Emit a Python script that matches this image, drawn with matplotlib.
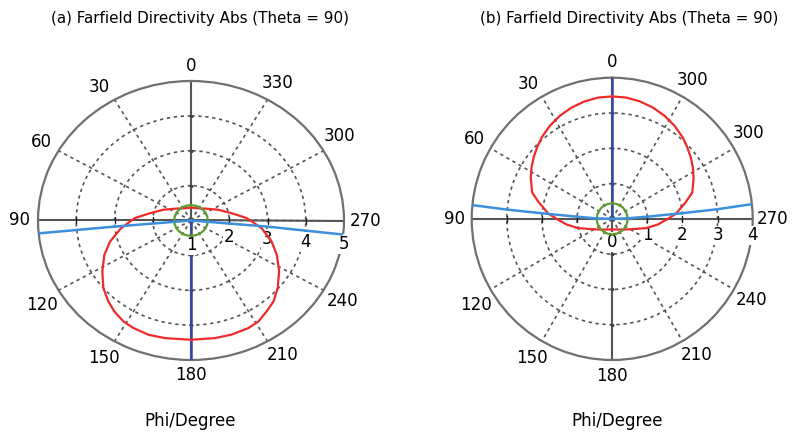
import numpy as np
import matplotlib.pyplot as plt

plt.rcParams['font.family'] = ['DejaVu Sans']

# Angulos de la rejilla y etiquetas de cada panel
angulos_theta = [0, 30, 60, 90, 120, 150, 180, 210, 240, 270, 300, 330]
etiquetas_theta_a = ['0', '30', '60', '90', '120', '150', '180', '210', '240', '270', '300', '330']
etiquetas_theta_b = ['0', '30', '60', '90', '120', '150', '180', '210', '240', '270', '300', '300']

# Escala radial: (a) va de 1 a 5, (b) de 0 a 4
rticks_a = [1, 2, 3, 4, 5]
rticks_b = [0, 1, 2, 3, 4]

# (a) Directividad, phi en grados y radio
phi_rojo_a = [0, 26.2, 46.7, 67.0, 78.9, 87.3, 96.8, 105.9, 113.5, 122.2, 130.2, 137.0,
              142.5, 148.6, 153.9, 161.2, 168.6, 180, 190.5, 198.0, 205.9, 211.3, 217.2,
              222.9, 229.5, 237.6, 246.3, 254.1, 263.2, 272.7, 281.2, 293.2, 313.3, 333.8, 360]
r_rojo_a = [1.37, 1.39, 1.50, 1.79, 2.09, 2.47, 2.84, 3.20, 3.47, 3.74, 4.00, 4.17,
            4.29, 4.39, 4.43, 4.46, 4.44, 4.42, 4.43, 4.44, 4.43, 4.39, 4.27,
            4.17, 3.98, 3.73, 3.45, 3.19, 2.86, 2.46, 2.08, 1.78, 1.50, 1.39, 1.37]
phi_celeste_a = [95.3, 95.0, 95.0, 265.0, 265.0, 264.2]
r_celeste_a = [5.05, 3.0, 1.0, 1.0, 3.0, 5.05]
phi_azul_a = [180, 180]
r_azul_a = [1.0, 5.0]
phi_verde_a = [0, 15, 30, 45, 60, 75, 90, 105, 120, 135, 150, 165, 180,
               195, 210, 225, 240, 255, 270, 285, 300, 315, 330, 345, 360]
r_verde_a = [1.44, 1.44, 1.44, 1.44, 1.44, 1.44, 1.44, 1.44, 1.44, 1.44, 1.44, 1.44, 1.44,
             1.44, 1.44, 1.44, 1.44, 1.44, 1.44, 1.44, 1.44, 1.44, 1.44, 1.44, 1.44]

# (b)
phi_rojo_b = [0, 6.7, 13.4, 20.1, 27.0, 33.9, 40.9, 46.3, 51.9, 57.6, 63.5, 71.8, 77.2,
              85.2, 90.3, 97.0, 105.0, 114.7, 131.2, 180, 228.8, 245.3, 255.0, 263.0,
              269.7, 274.8, 282.8, 288.2, 296.5, 302.4, 308.1, 313.7, 319.1, 326.1, 333.0,
              339.9, 346.6, 353.3, 360]
r_rojo_b = [3.47, 3.46, 3.42, 3.36, 3.28, 3.18, 3.06, 2.95, 2.84, 2.72, 2.59, 2.40, 2.15,
            1.83, 1.57, 1.31, 1.01, 0.69, 0.46, 0.30, 0.46, 0.69, 1.01, 1.31,
            1.57, 1.83, 2.15, 2.40, 2.59, 2.72, 2.84, 2.95, 3.06, 3.18, 3.28,
            3.36, 3.42, 3.46, 3.47]
phi_celeste_b = [84.4, 85.0, 85.5, 86.5, 88.5, 90, 270, 272, 273.5, 274.6, 275.2, 276.0]
r_celeste_b = [4.05, 3.0, 2.0, 1.0, 0.45, 0.0, 0.0, 0.45, 1.0, 2.0, 3.0, 4.05]
phi_azul_b = [0, 0]
r_azul_b = [0.0, 4.0]
phi_verde_b = phi_verde_a
r_verde_b = [0.44, 0.44, 0.44, 0.44, 0.44, 0.44, 0.44, 0.44, 0.44, 0.44, 0.44, 0.44, 0.44,
             0.44, 0.44, 0.44, 0.44, 0.44, 0.44, 0.44, 0.44, 0.44, 0.44, 0.44, 0.44]

ROJO = '#ee2b2b'
VERDE = '#5c9b2f'
AZUL = '#3347a8'
CELESTE = '#3b8fdc'
GRIS = '#555555'


def preparar_polar(ax, rticks, etiquetas_theta, ang_r, off_r, off_centro):
    ax.set_aspect('auto')
    ax.set_theta_zero_location('N')
    ax.set_theta_direction(1)
    rmin, rmax = rticks[0], rticks[-1]
    ax.set_ylim(rmin, rmax)
    ax.set_xticks(np.deg2rad(angulos_theta))
    ax.set_xticklabels([])
    ax.set_yticks(rticks[1:-1])
    ax.set_yticklabels([])
    ax.grid(True, color=GRIS, linestyle=(0, (2, 2.2)), linewidth=1.2)
    ax.spines['polar'].set_color('#707070')
    ax.spines['polar'].set_linewidth(1.6)
    ax.tick_params(axis='x', direction='in', length=3, width=1.5, color='black')
    # etiquetas de phi fuera del circulo (mas lejos cuanto mas ancho el texto)
    for ang, lab in zip(angulos_theta, etiquetas_theta):
        t = np.deg2rad(ang)
        fac = 1.08 + 0.03 * abs(np.cos(t)) + 0.02 * len(lab) * abs(np.sin(t))
        t_lab = t + np.deg2rad(2) if ang % 90 == 30 else t
        ax.text(t_lab, rmin + fac * (rmax - rmin), lab, ha='center', va='center',
                fontsize=12, clip_on=False)
    # ejes solidos 0-180 y 90-270
    for ang in [0, 90, 180, 270]:
        ax.axvline(np.deg2rad(ang), color=GRIS, lw=1.5, zorder=2)
    # marcas pequenas sobre los ejes
    for ang in [90, 270]:
        ax.plot(np.deg2rad([ang] * len(rticks[1:-1])), rticks[1:-1], ls='none',
                marker='|', ms=4, mew=1.0, color='#222222', zorder=2.2)
    for ang in [0, 180]:
        ax.plot(np.deg2rad([ang] * len(rticks[1:-1])), rticks[1:-1], ls='none',
                marker='_', ms=3, mew=1.0, color='#444444', zorder=2.2)
    # etiquetas radiales bajo el eje derecho
    for i, r in enumerate(rticks):
        off = off_centro if i == 0 else off_r
        ax.annotate(str(r), (np.deg2rad(ang_r), r), xytext=(0, -off), textcoords='offset points',
                    ha='center', va='center', fontsize=12, zorder=3.5,
                    bbox=dict(boxstyle='square,pad=0.05', fc='white', ec='none'))


def dibujar(ax, phi_r, r_r, phi_c, r_c, phi_az, r_az, phi_v, r_v):
    ax.plot(np.deg2rad(phi_az), r_az, color=AZUL, lw=1.8, zorder=3)
    ax.plot(np.deg2rad(phi_r), r_r, color=ROJO, lw=1.6, zorder=4)
    ax.plot(np.deg2rad(phi_v), r_v, color=VERDE, lw=1.6, zorder=4)
    ax.plot(np.deg2rad(phi_c), r_c, color=CELESTE, lw=1.8, zorder=5)


fig = plt.figure(figsize=(7.95, 4.34), dpi=100)
ax_a = fig.add_axes([38 / 795, 74 / 434, 306 / 795, 279 / 434], projection='polar')
ax_b = fig.add_axes([471.7 / 795, 74 / 434, 281 / 795, 282.3 / 434], projection='polar')

preparar_polar(ax_a, rticks_a, etiquetas_theta_a, 266, 10.0, 17.6)
preparar_polar(ax_b, rticks_b, etiquetas_theta_b, 270, 11.9, 16.6)
dibujar(ax_a, phi_rojo_a, r_rojo_a, phi_celeste_a, r_celeste_a, phi_azul_a, r_azul_a,
        phi_verde_a, r_verde_a)
dibujar(ax_b, phi_rojo_b, r_rojo_b, phi_celeste_b, r_celeste_b, phi_azul_b, r_azul_b,
        phi_verde_b, r_verde_b)

fig.text(200 / 795, 1 - 19 / 434, '(a) Farfield Directivity Abs (Theta = 90)',
         ha='center', va='center', fontsize=10.9)
fig.text(629 / 795, 1 - 19 / 434, '(b) Farfield Directivity Abs (Theta = 90)',
         ha='center', va='center', fontsize=10.9)
fig.text(190.5 / 795, 1 - 421 / 434, 'Phi/Degree', ha='center', va='center', fontsize=12)
fig.text(617 / 795, 1 - 421 / 434, 'Phi/Degree', ha='center', va='center', fontsize=12)

fig.savefig('out.png', dpi=100)
